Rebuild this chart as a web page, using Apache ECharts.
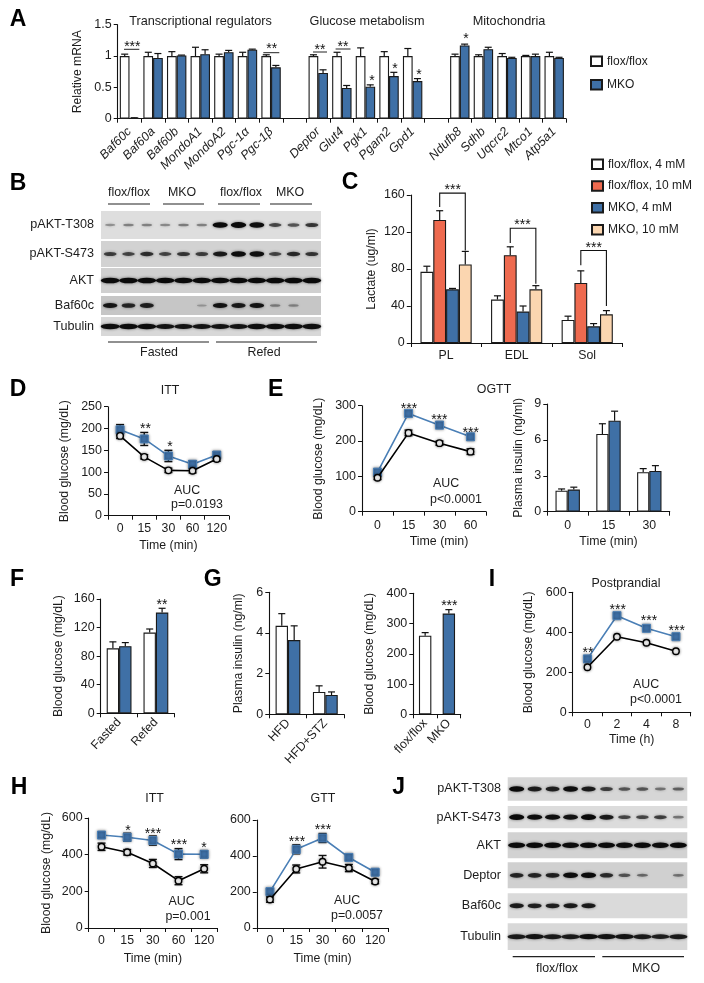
<!DOCTYPE html>
<html><head><meta charset="utf-8">
<style>html,body{margin:0;padding:0;background:#fff}#c{width:704px;height:983px}</style>
<script src="https://cdn.jsdelivr.net/npm/echarts@6/dist/echarts.min.js"></script></head>
<body><div id="c"></div>
<script>
// ---- data ----
var catsA=['Baf60c','Baf60a','Baf60b','MondoA1','MondoA2','Pgc-1α','Pgc-1β','','Deptor','Glut4','Pgk1','Pgam2','Gpd1','','Ndufb8','Sdhb','Uqcrc2','Mtco1','Atp5a1'];
var floxA=[1,1,1,1,1,1,1,null,1,1,1,1,1,null,1,1,1,1,1];
var floxAErr=[.03,.06,.07,.14,.03,.06,.02,0,.02,.06,.13,.07,.12,0,.03,.02,.04,.01,.06];
var mkoA=[.01,.97,1.01,1.03,1.06,1.1,.82,null,.73,.49,.51,.68,.6,null,1.17,1.11,.97,1,.97];
var mkoAErr=[.005,.07,.005,.07,.03,.01,.03,0,.05,.04,.03,.06,.04,0,.02,.03,.01,.03,.01];

var catsC=['PL','EDL','Sol'];
var flox4=[77,47,25], flox4Err=[6,4,4];
var flox10=[133,95,65], flox10Err=[10,9,13];
var mko4=[58,34,18], mko4Err=[1,6,3];
var mko10=[85,58,31], mko10Err=[14,4,4];

var catsD=['0','15','30','60','120'];
var floxD=[183,135,104,103,130], floxDErr=[6,5,5,5,5];
var mkoD=[197,176,137,118,139], mkoDErr=[12,15,13,8,8];

var catsE=['0','15','30','60'];
var floxE=[96,223,194,170], floxEErr=[5,8,6,8];
var mkoE=[112,278,245,212], mkoEErr=[5,8,8,8];

var catsE2=['0','15','30'];
var floxE2=[1.75,6.5,3.3], floxE2Err=[.15,.85,.3];
var mkoE2=[1.85,7.6,3.4], mkoE2Err=[.2,.8,.45];

var catsF=['Fasted','Refed'];
var floxF=[91,113], floxFErr=[9,5];
var mkoF=[94,141], mkoFErr=[5,6];

var catsG=['HFD','HFD+STZ'];
var floxG=[4.35,1.1], floxGErr=[.6,.3];
var mkoG=[3.65,.95], mkoGErr=[.7,.15];

var catsG2=['flox/flox','MKO'];
var valsG2=[260,333], errsG2=[10,13];

var catsI=['0','2','4','8'];
var floxI=[225,378,348,305], floxIErr=[10,6,8,8];
var mkoI=[267,483,420,378], mkoIErr=[12,8,12,8];

var catsH=['0','15','30','60','120'];
var floxH1=[443,413,352,258,323], floxH1Err=[20,15,22,22,22];
var mkoH1=[507,495,477,403,402], mkoH1Err=[15,22,25,30,20];
var floxH2=[158,328,368,333,258], floxH2Err=[15,22,35,20,12];
var mkoH2=[202,437,500,392,310], mkoH2Err=[15,25,25,15,15];

var blotBRows=['pAKT-T308','pAKT-S473','AKT','Baf60c','Tubulin'];
var blotB=[
 [.12,.2,.2,.15,.22,.2,.95,1,.92,.5,.42,.6],
 [.55,.5,.65,.5,.6,.55,.8,.92,.88,.5,.68,.6],
 [.98,.98,.98,.96,.96,.96,.94,.96,.96,.98,.98,.98],
 [.82,.7,.75,0,0,.03,.85,.8,.85,.18,.14,0],
 [.9,.92,.92,.85,.85,.85,.85,.85,.9,.9,.9,.88]];
var blotJRows=['pAKT-T308','pAKT-S473','AKT','Deptor','Baf60c','Tubulin'];
var blotJ=[
 [.95,.78,.75,.9,.8,.55,.4,.4,.25,.35],
 [.95,.9,.9,.85,.95,.8,.5,.5,.55,.25],
 [.95,.95,.95,.92,.95,.95,.92,.95,.92,.95],
 [.72,.72,.75,.92,.95,.68,.42,.3,0,.25],
 [.8,.75,.75,.8,.8,0,0,0,0,0],
 [.8,.85,.8,.8,.9,.85,.85,.8,.75,.8]];

// ---- style ----
var FONT='"Liberation Sans",Arial,sans-serif', TXT='#1c1c1c';
var WHITE='#ffffff', BLUE='#3f70a6', RED='#ee6a4f', PEACH='#fbd6b0', EDGE='#1a1a1a', LINEBLUE='#4a7fb6';

var grid=[],xAxis=[],yAxis=[],series=[],gfx=[];

function addPanel(p){
  var i=grid.length;
  grid.push({left:p.l,top:p.t,width:p.w,height:p.h,containLabel:false});
  xAxis.push({type:'category',gridIndex:i,data:p.cats,name:p.xname||'',nameLocation:'middle',nameGap:p.xgap||24,
    nameTextStyle:{fontFamily:FONT,fontSize:12.3,color:TXT},
    axisLine:{lineStyle:{color:'#111',width:1.1}},axisTick:{show:true,length:p.tick||4,inside:false,alignWithLabel:false,lineStyle:{color:'#111'}},
    axisLabel:{interval:0,rotate:p.rot||0,margin:p.lm||7,fontFamily:FONT,fontSize:p.lf||12.3,fontStyle:p.ital?'italic':'normal',color:TXT}});
  yAxis.push({type:'value',gridIndex:i,min:p.min||0,max:p.max,interval:p.int,name:p.yname,nameLocation:'middle',nameGap:p.ygap,
    nameTextStyle:{fontFamily:FONT,fontSize:12.2,color:TXT},
    axisLine:{show:true,lineStyle:{color:'#111',width:1.1}},axisTick:{show:true,length:4,lineStyle:{color:'#111'}},splitLine:{show:false},
    axisLabel:{margin:6,fontFamily:FONT,fontSize:12.5,color:TXT}});
  return i;
}
function errSeries(i,vals,errs,off,cap,both,w){
  var d=[];vals.forEach(function(v,k){if(v!=null)d.push([k,v,errs[k]]);});
  series.push({type:'custom',xAxisIndex:i,yAxisIndex:i,silent:true,z:both?2:1,encode:{x:0,y:1},data:d,clip:false,
    renderItem:function(pm,api){
      var x=api.value(0),v=api.value(1),e=api.value(2);
      var a=api.coord([x,v]),b=api.coord([x,v+e]),c=api.coord([x,v-e]);
      var st={stroke:'#111',lineWidth:w||1.2,fill:null};
      var X=a[0]+off;
      var ch=[{type:'line',shape:{x1:X,y1:both?c[1]:a[1],x2:X,y2:b[1]},style:st},
              {type:'line',shape:{x1:X-cap,y1:b[1],x2:X+cap,y2:b[1]},style:st}];
      if(both)ch.push({type:'line',shape:{x1:X-cap,y1:c[1],x2:X+cap,y2:c[1]},style:st});
      return {type:'group',children:ch};
    }});
}
function barSeries(i,name,vals,col,bw,gap){
  series.push({type:'bar',name:name,xAxisIndex:i,yAxisIndex:i,data:vals,barWidth:bw,barGap:gap||0,z:3,
    itemStyle:{color:col,borderColor:EDGE,borderWidth:1.1}});
}
function bars2(i,f,fe,m,me,bw,cap,nf,nm){
  errSeries(i,f,fe,-bw/2,cap);errSeries(i,m,me,bw/2,cap);
  barSeries(i,nf||'flox',f,WHITE,bw);barSeries(i,nm||'mko',m,BLUE,bw);
}
function lines2(i,f,fe,m,me,cap){
  errSeries(i,m,me,0,cap,true,1.4);
  errSeries(i,f,fe,0,cap,true,1.4);
  series.push({type:'line',name:'mko line',xAxisIndex:i,yAxisIndex:i,data:m,z:4,symbol:'rect',symbolSize:8,showSymbol:true,
    lineStyle:{color:LINEBLUE,width:1.6},itemStyle:{color:BLUE,borderColor:LINEBLUE,borderWidth:1,shadowBlur:3,shadowColor:'rgba(0,0,0,.45)'}});
  series.push({type:'line',name:'flox line',xAxisIndex:i,yAxisIndex:i,data:f,z:5,symbol:'circle',symbolSize:6.5,showSymbol:true,
    lineStyle:{color:'#000',width:1.6},itemStyle:{color:'#fff',borderColor:'#000',borderWidth:1.4,shadowBlur:3,shadowColor:'rgba(0,0,0,.45)'}});
}
function T(text,x,y,o){o=o||{};
  gfx.push({type:'text',silent:true,z:20,style:{text:text,x:x,y:y,fill:o.fill||TXT,textAlign:o.a||'center',textVerticalAlign:'middle',
    font:(o.b?'bold ':'')+(o.s||12.4)+'px '+FONT}});
}
function L(x1,y1,x2,y2,c,w){gfx.push({type:'line',silent:true,z:20,shape:{x1:x1,y1:y1,x2:x2,y2:y2},style:{stroke:c||'#222',lineWidth:w||1}});}

// ---- A ----
var a=addPanel({l:117.7,t:24.7,w:448.3,h:94,cats:catsA,max:1.5,int:.5,yname:'Relative mRNA',ygap:31,rot:45,ital:true,lm:11,lf:12.5});
errSeries(a,floxA,floxAErr,-4.8,3.5);errSeries(a,mkoA,mkoAErr,4.8,3.5);
barSeries(a,'flox/flox',floxA,WHITE,9.7);barSeries(a,'MKO',mkoA,BLUE,9.7);
// ---- C ----
var c=addPanel({l:410.8,t:195,w:211.7,h:148,cats:catsC,max:160,int:40,yname:'Lactate (ug/ml)',ygap:33,lm:7});
var bw=12.8;
errSeries(c,flox4,flox4Err,-bw*1.5,3.5);errSeries(c,flox10,flox10Err,-bw/2,3.5);errSeries(c,mko4,mko4Err,bw/2,3.5);errSeries(c,mko10,mko10Err,bw*1.5,3.5);
barSeries(c,'flox/flox, 4 mM',flox4,WHITE,bw);barSeries(c,'flox/flox, 10 mM',flox10,RED,bw);barSeries(c,'MKO, 4 mM',mko4,BLUE,bw);barSeries(c,'MKO, 10 mM',mko10,PEACH,bw);
// significance brackets in C, on the value scale: group, left foot, top, right foot
var bracketsC=[[0,147,162,100],[1,108,124,64],[2,84,100,40]];
series.push({type:'custom',xAxisIndex:c,yAxisIndex:c,silent:true,z:6,clip:false,encode:{x:0,y:1},data:bracketsC,
  renderItem:function(pm,api){
    var g=api.value(0),p=api.coord([g,api.value(1)]),t=api.coord([g,api.value(2)]),r=api.coord([g,api.value(3)]);
    var xl=p[0]-bw/2,xr=p[0]+bw*1.5;
    return {type:'polyline',shape:{points:[[xl,p[1]],[xl,t[1]],[xr,t[1]],[xr,r[1]]]},style:{stroke:'#111',lineWidth:1.1,fill:null}};
  }});
// ---- D ----
var d=addPanel({l:108,t:406.7,w:120.8,h:109,cats:catsD,max:250,int:50,yname:'Blood glucose (mg/dL)',ygap:37.5,xname:'Time (min)',xgap:24,lm:7});
lines2(d,floxD,floxDErr,mkoD,mkoDErr,4);
// ---- E ----
var e=addPanel({l:362,t:405.7,w:124,h:106,cats:catsE,max:300,int:100,yname:'Blood glucose (mg/dL)',ygap:37,lm:8});
lines2(e,floxE,floxEErr,mkoE,mkoEErr,4);
T('Time (min)',439,541.7);
var e2=addPanel({l:547.3,t:404,w:122.4,h:107.7,cats:catsE2,max:9,int:3,yname:'Plasma insulin (ng/ml)',ygap:23,xname:'Time (min)',xgap:24,lm:8});
bars2(e2,floxE2,floxE2Err,mkoE2,mkoE2Err,12.2,3.5);
// ---- F ----
var f=addPanel({l:100.7,t:599,w:73.6,h:114.3,cats:catsF,max:160,int:40,yname:'Blood glucose (mg/dL)',ygap:36,rot:47,lm:7});
bars2(f,floxF,floxFErr,mkoF,mkoFErr,12.4,3.5);
// ---- G ----
var g1=addPanel({l:269.3,t:592.3,w:74.7,h:122,cats:catsG,max:6,int:2,yname:'Plasma insulin (ng/ml)',ygap:25,rot:47,lm:7});
bars2(g1,floxG,floxGErr,mkoG,mkoGErr,12.4,3.5);
var g2=addPanel({l:413.3,t:593.3,w:47.4,h:121,cats:catsG2,max:400,int:100,yname:'Blood glucose (mg/dL)',ygap:37.5,rot:47,lm:7});
errSeries(g2,valsG2,errsG2,0,3.5);
series.push({type:'bar',name:'G2',xAxisIndex:g2,yAxisIndex:g2,barWidth:12.4,z:3,
  data:valsG2.map(function(v,k){return {value:v,itemStyle:{color:k?BLUE:WHITE,borderColor:EDGE,borderWidth:1.1}};})});
// ---- I ----
var ip=addPanel({l:572.7,t:592.3,w:118,h:120,cats:catsI,max:600,int:200,yname:'Blood glucose (mg/dL)',ygap:38,xname:'Time (h)',xgap:21,lm:6});
lines2(ip,floxI,floxIErr,mkoI,mkoIErr,3);
// ---- H ----
var h1=addPanel({l:88.7,t:818,w:128.3,h:110,cats:catsH,max:600,int:200,yname:'Blood glucose (mg/dL)',ygap:36,xname:'Time (min)',xgap:25,lm:7});
lines2(h1,floxH1,floxH1Err,mkoH1,mkoH1Err,4);
var h2=addPanel({l:256.8,t:820,w:131.5,h:108,cats:catsH,max:600,int:200,xname:'Time (min)',xgap:25,lm:7});
lines2(h2,floxH2,floxH2Err,mkoH2,mkoH2Err,4);

// ---- blots ----
function addBlot(names,rows,boxes,left,width,bgs,lab,wide){
  rows.forEach(function(vals,r){
    var i=grid.length,b=boxes[r];
    grid.push({left:left,top:b[0],width:width,height:b[1]-b[0],show:true,backgroundColor:bgs[r],borderWidth:0,containLabel:false});
    xAxis.push({type:'category',gridIndex:i,show:false,data:vals.map(function(v,k){return k;})});
    yAxis.push({type:'category',gridIndex:i,data:[names[r]],axisLine:{show:false},axisTick:{show:false},
      axisLabel:{margin:lab,fontFamily:FONT,fontSize:12.6,color:TXT}});
    series.push({type:'scatter',xAxisIndex:i,yAxisIndex:i,z:4,silent:true,
      data:vals.map(function(v,k){
        return {value:[k,0],symbolSize:v>0?[9.5+6*v+wide[r],1.8+4*v]:0,
          itemStyle:{color:'#0a0a0a',opacity:v>0?Math.min(1,.2+.85*v):0,shadowBlur:3,shadowColor:'rgba(0,0,0,.55)'}};
      })});
  });
}
var stretchB=[0,0,3.5,0,4], stretchJ=[0,0,2,0,0,4];
addBlot(blotBRows,blotB,[[211,239],[241,267],[268,293],[296,315],[317,336]],101,220,['#dedede','#d2d2d2','#d0d0d0','#c6c6c6','#d8d8d8'],7,stretchB);
addBlot(blotJRows,blotJ,[[777.3,800.7],[806,828.3],[832.3,858.3],[862.3,888.3],[893.3,918.3],[923.3,950]],507.7,179.6,['#d6d6d6','#dcdcdc','#d2d2d2','#d0d0d0','#dadada','#d8d8d8'],6.7,stretchJ);

// ---- text & annotation ----
[['A',18,20],['B',18,184],['C',350,183],['D',18,390],['E',275.6,390],['F',17,580],['G',212.6,580],['I',492,580],['H',19,788],['J',398.6,788]].forEach(function(t){T(t[0],t[1],t[2],{b:1,s:23,fill:'#000'});});
T('Transcriptional regulators',200.5,21,{s:12.7});T('Glucose metabolism',367,21,{s:12.7});T('Mitochondria',509,21,{s:12.7});
[['***',132.3,45],['**',271.7,47.3],['**',320,48],['**',343,45],['*',372,79],['*',395,67],['*',419,73],['*',466,37],
 ['***',452.7,188],['***',522.5,223],['***',593.7,246],
 ['**',145.5,427],['*',170,445],['***',409,406.7],['***',439.3,418.3],['***',470.7,430.7],
 ['**',162,603],['***',449.3,604.3],['**',588,650.7],['***',617.7,608.3],['***',649,619],['***',676.7,629],
 ['*',128,829],['***',153,832],['***',179,843],['*',204,846],['***',297,840],['***',323,828]].forEach(function(t){T(t[0],t[1],t[2]+2,{s:14,fill:'#111'});});
[[124,139.3,49.3],[263.3,279.3,52.7],[313,327,52],[335.6,350.5,49]].forEach(function(s){L(s[0],s[2],s[1],s[2],'#222',1);});
T('ITT',170,391);T('OGTT',494,390);T('Postprandial',626,584);T('ITT',154.5,799);T('GTT',323,799);
T('AUC',187,491);T('p=0.0193',197,505);T('AUC',446,484);T('p<0.0001',456,500);T('AUC',646,685);T('p<0.0001',656,699.3);T('AUC',181.5,902);T('p=0.001',188,917);T('AUC',347,901);T('p=0.0057',357,916);
[['flox/flox',129],['MKO',182],['flox/flox',241],['MKO',290]].forEach(function(t){T(t[0],t[1],193);});
[[108,150],[163,204],[218,260],[270,312]].forEach(function(s){L(s[0],204,s[1],204,'#222',1.2);});
[[108,209],[216,317]].forEach(function(s){L(s[0],342,s[1],342,'#222',1.2);});
T('Fasted',159,353);T('Refed',264,353);
[[512.7,595],[602.3,684]].forEach(function(s){L(s[0],956.7,s[1],956.7,'#222',1.2);});
T('flox/flox',557,969);T('MKO',646,969);

var option={animation:false,backgroundColor:'#fff',grid:grid,xAxis:xAxis,yAxis:yAxis,series:series,graphic:{elements:gfx},
 legend:[
  {left:590,top:55.25,padding:0,orient:'vertical',icon:'rect',itemWidth:11,itemHeight:9.5,itemGap:11.5,selectedMode:false,data:['flox/flox','MKO'],textStyle:{fontFamily:FONT,fontSize:12,color:TXT}},
  {left:591,top:158.25,padding:0,orient:'vertical',icon:'rect',itemWidth:11,itemHeight:9.5,itemGap:9.8,selectedMode:false,data:['flox/flox, 4 mM','flox/flox, 10 mM','MKO, 4 mM','MKO, 10 mM'],textStyle:{fontFamily:FONT,fontSize:12,color:TXT}}
 ]};
var chart=echarts.init(document.getElementById('c'),null,{renderer:'canvas',width:704,height:983});
chart.setOption(option);
</script></body></html>
